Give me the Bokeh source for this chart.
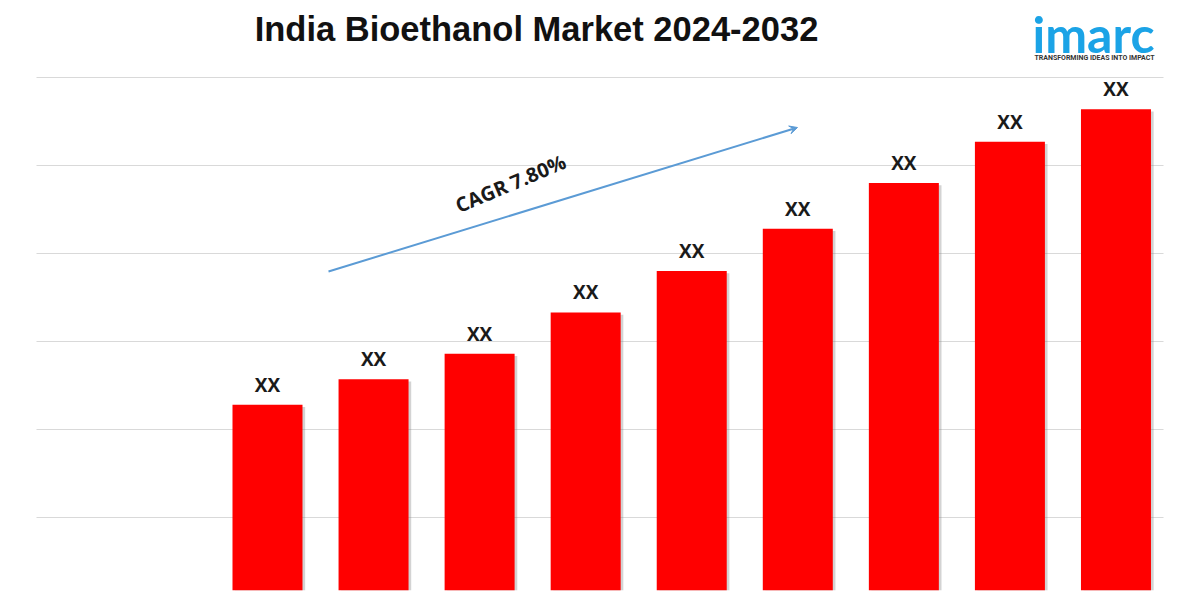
from bokeh.plotting import figure
from bokeh.models import Range1d, Label, Arrow, VeeHead, ColumnDataSource
from bokeh.core.properties import value
from bokeh.embed import file_html
from bokeh.resources import INLINE

# ---- data ----
years = [2024, 2025, 2026, 2027, 2028, 2029, 2030, 2031, 2032]
values = [2.28, 2.57, 2.86, 3.33, 3.80, 4.28, 4.80, 5.27, 5.64]
labels = ["XX"] * len(years)
title_text = "India Bioethanol Market 2024-2032"
cagr_text = "CAGR 7.80%"
grid_ticks = [1, 2, 3, 4, 5, 6]

W, H = 1200, 600
FB = 590                      # bottom of the plotting frame (pixels)
x0, x1 = 2021.4826, 2032.797  # x range across the whole width
y0, y1 = 0.1705, 6.875        # y range from frame bottom to top of canvas


def xd(px):
    return x0 + px * (x1 - x0) / W


def yd(py):
    return y0 + (FB - py) * (y1 - y0) / FB


p = figure(width=W, height=H, output_backend="svg", toolbar_location=None,
           x_range=Range1d(x0, x1), y_range=Range1d(y0, y1))
p.min_border_left = 0
p.min_border_right = 0
p.min_border_top = 0
p.min_border_bottom = H - FB
p.outline_line_color = None
p.xaxis.visible = False
p.yaxis.visible = False
p.xgrid.visible = False
p.ygrid.visible = False
p.background_fill_color = "white"
p.border_fill_color = "white"

# horizontal gridlines
p.segment(x0=xd(36), x1=xd(1163), y0=grid_ticks, y1=grid_ticks,
          line_color="#d9d9d9", line_width=1)

src = ColumnDataSource(dict(
    x=years, top=values, lab=labels,
    xs=[y + 0.025 for y in years], ts=[v - 0.025 for v in values],
))

# soft shadow
p.vbar(x="xs", top="ts", bottom=0, width=0.66, source=src,
       fill_color="#808080", fill_alpha=0.35, line_color=None)
p.vbar(x="x", top="top", bottom=0, width=0.66, source=src,
       fill_color="#ff0000", line_color=None)

p.text(x="x", y="top", text="lab", source=src, text_align="center",
       text_baseline="bottom", y_offset=-7, text_font=value("Open Sans"),
       text_font_style="bold", text_font_size="19px", text_color="#1a1a1a")

# CAGR arrow and label
p.add_layout(Arrow(x_start=xd(328), y_start=yd(271), x_end=xd(797), y_end=yd(127),
                   line_color="#5b9bd5", line_width=2,
                   end=VeeHead(size=8, fill_color="#5b9bd5", line_color="#5b9bd5")))
p.add_layout(Label(x=xd(510), y=yd(183), text=cagr_text, angle=23, angle_units="deg",
                   text_align="center", text_baseline="middle",
                   text_font="Open Sans", text_font_style="bold",
                   text_font_size="20px", text_color="#1a1a1a"))

# Title
p.add_layout(Label(x=xd(536), y=yd(28), text=title_text, text_align="center",
                   text_baseline="middle", text_font="Liberation Sans",
                   text_font_style="bold", text_font_size="34.5px", text_color="#111111"))

# Logo
p.add_layout(Label(x=xd(1093), y=yd(33), text="imarc", text_align="center",
                   text_baseline="middle", text_font="Lato",
                   text_font_style="bold", text_font_size="50px", text_color="#1ba3e6"))
p.add_layout(Label(x=xd(1094), y=yd(57.5), text="TRANSFORMING IDEAS INTO IMPACT",
                   text_align="center", text_baseline="middle",
                   text_font="Roboto", text_font_style="bold",
                   text_font_size="7px", text_color="#333333"))

open("out.html", "w").write(file_html(p, INLINE))
